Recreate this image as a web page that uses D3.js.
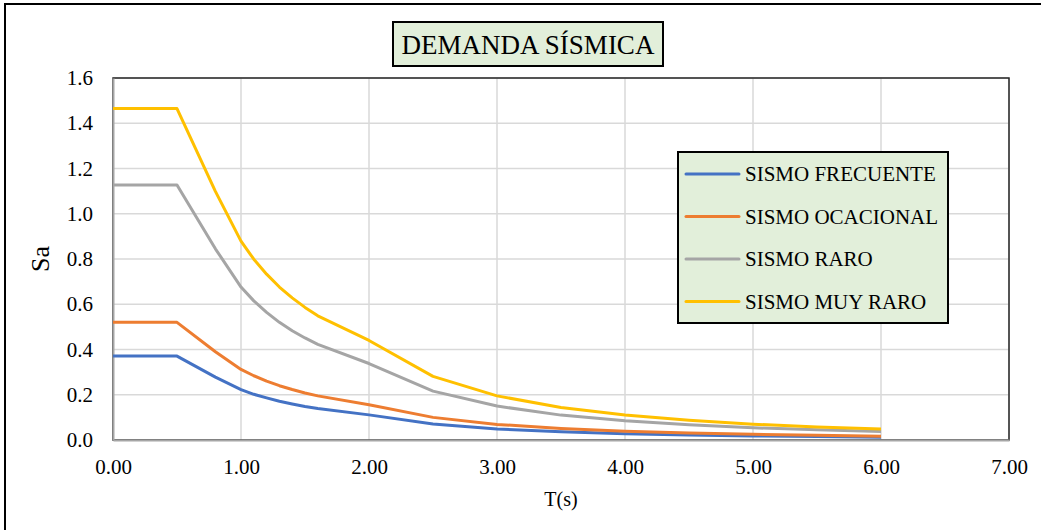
<!DOCTYPE html>
<html>
<head>
<meta charset="utf-8">
<script src="https://cdn.jsdelivr.net/npm/d3@7"></script>
<style>
  html, body { margin: 0; padding: 0; background: #fff; }
  svg { display: block; }
  text { font-family: "Liberation Serif", "Times New Roman", serif; fill: #000; }
</style>
</head>
<body>
<svg id="chart" width="1041" height="530" font-family="Liberation Serif"></svg>
<script>
const periods = [0, 0.5, 0.8, 1.0, 1.1, 1.2, 1.3, 1.4, 1.5, 1.6, 2.0, 2.5, 3.0, 3.5, 4.0, 4.5, 5.0, 5.5, 6.0];
const sismoFrecuente = [0.371, 0.371, 0.278, 0.223, 0.202, 0.186, 0.171, 0.159, 0.148, 0.139, 0.111, 0.071, 0.049, 0.036, 0.028, 0.022, 0.018, 0.015, 0.012];
const sismoOcasional = [0.520, 0.520, 0.390, 0.312, 0.284, 0.260, 0.240, 0.223, 0.208, 0.195, 0.156, 0.100, 0.069, 0.051, 0.039, 0.031, 0.025, 0.021, 0.017];
const sismoRaro = [1.127, 1.127, 0.845, 0.676, 0.615, 0.564, 0.520, 0.483, 0.451, 0.423, 0.338, 0.216, 0.150, 0.110, 0.085, 0.067, 0.054, 0.045, 0.038];
const sismoMuyRaro = [1.465, 1.465, 1.099, 0.879, 0.799, 0.733, 0.676, 0.628, 0.586, 0.549, 0.440, 0.281, 0.195, 0.144, 0.110, 0.087, 0.070, 0.058, 0.049];
const seriesNames = ["SISMO FRECUENTE", "SISMO OCACIONAL", "SISMO RARO", "SISMO MUY RARO"];
const xTicks = [0, 1, 2, 3, 4, 5, 6, 7];
const yTicks = [0, 0.2, 0.4, 0.6, 0.8, 1.0, 1.2, 1.4, 1.6];
const chartTitle = "DEMANDA SÍSMICA";
const xTitle = "T(s)";
const yTitle = "Sa";

const seriesValues = [sismoFrecuente, sismoOcasional, sismoRaro, sismoMuyRaro];
const colors = ["#4472C4", "#ED7D31", "#A5A5A5", "#FFC000"];
const FONT = "Liberation Serif";

const svg = d3.select("#chart");

// outer chart border
svg.append("rect").attr("x", 5).attr("y", 4).attr("width", 1100).attr("height", 600)
  .attr("fill", "#fff").attr("stroke", "#000").attr("stroke-width", 2);

const pL = 113, pR = 1009, pT = 78, pB = 440;
const x = d3.scaleLinear().domain([0, 7]).range([pL, pR]);
const y = d3.scaleLinear().domain([0, 1.6]).range([pB, pT]);

// gridlines
const g = svg.append("g");
g.selectAll(".vg").data(xTicks.slice(1)).enter().append("line")
  .attr("x1", d => x(d)).attr("x2", d => x(d)).attr("y1", pT).attr("y2", pB)
  .attr("stroke", "#d9d9d9").attr("stroke-width", 1.5);
g.selectAll(".hg").data(yTicks.slice(1)).enter().append("line")
  .attr("x1", pL).attr("x2", pR).attr("y1", d => y(d)).attr("y2", d => y(d))
  .attr("stroke", "#d9d9d9").attr("stroke-width", 1.5);

// plot area border
svg.append("rect").attr("x", pL).attr("y", pT).attr("width", pR - pL).attr("height", pB - pT)
  .attr("fill", "none").attr("stroke", "#262626").attr("stroke-width", 1.5);

// axes
const xAxis = d3.axisBottom(x).tickValues(xTicks).tickFormat(d3.format(".2f")).tickSize(0).tickPadding(19);
const yAxis = d3.axisLeft(y).tickValues(yTicks).tickFormat(d3.format(".1f")).tickSize(0).tickPadding(20);
const xa = svg.append("g").attr("transform", `translate(0,${pB})`).call(xAxis);
const ya = svg.append("g").attr("transform", `translate(${pL},0)`).call(yAxis);
[xa, ya].forEach(a => {
  a.attr("font-family", FONT).attr("font-size", 21);
  a.select(".domain").attr("stroke", "#a6a6a6").attr("stroke-width", 2);
  a.selectAll("text").attr("font-family", FONT).style("font-family", FONT)
    .style("font-size", "21px").attr("fill", "#000");
});

// lines
const line = d3.line().x((d, i) => x(periods[i])).y(d => y(d));
seriesValues.forEach((vals, k) => {
  svg.append("path").datum(vals).attr("d", line)
    .attr("fill", "none").attr("stroke", colors[k]).attr("stroke-width", 3)
    .attr("stroke-linejoin", "round");
});

// axis titles
svg.append("text").attr("x", (pL + pR) / 2).attr("y", 506).attr("text-anchor", "middle")
  .attr("font-family", FONT).style("font-size", "20px").text(xTitle);
svg.append("text").attr("transform", `translate(49,${(pT + pB) / 2}) rotate(-90)`)
  .attr("text-anchor", "middle").attr("font-family", FONT).style("font-size", "26px").text(yTitle);

// title box
svg.append("rect").attr("x", 393).attr("y", 22).attr("width", 270).attr("height", 44)
  .attr("fill", "#E2EFDA").attr("stroke", "#000").attr("stroke-width", 2);
svg.append("text").attr("x", 528).attr("y", 54).attr("text-anchor", "middle")
  .attr("font-family", FONT).style("font-size", "27px").text(chartTitle);

// legend
const lg = svg.append("g");
lg.append("rect").attr("x", 678).attr("y", 152).attr("width", 270).attr("height", 171)
  .attr("fill", "#E2EFDA").attr("stroke", "#000").attr("stroke-width", 2);
seriesNames.forEach((name, k) => {
  const yy = 174 + k * 42.5;
  lg.append("line").attr("x1", 686).attr("x2", 739).attr("y1", yy).attr("y2", yy)
    .attr("stroke", colors[k]).attr("stroke-width", 3).attr("stroke-linecap", "round");
  lg.append("text").attr("x", 745).attr("y", yy + 7).attr("font-family", FONT)
    .style("font-size", "21px").text(name);
});
</script>
</body>
</html>
